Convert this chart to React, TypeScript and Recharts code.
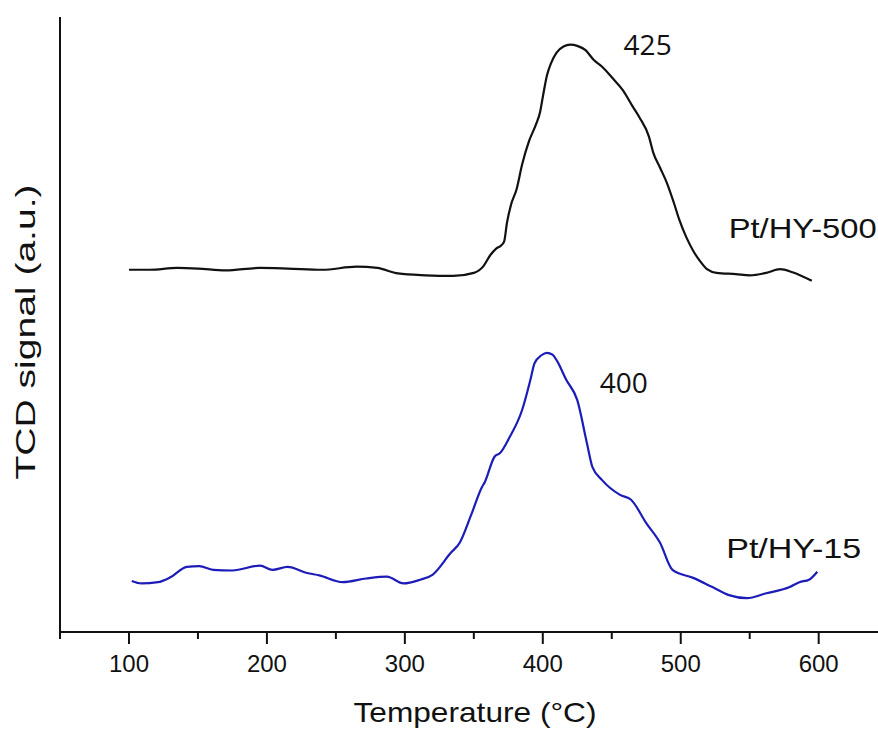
import React from "react";
import { LineChart, Line, XAxis, YAxis, Label, ReferenceDot } from "recharts";

// Pt/HY-500 (black)
const hy500Temp = [100, 115, 135, 150, 170, 195, 215, 240, 265, 280, 295, 315, 335, 350, 357, 362, 366, 370, 372, 374, 377, 381, 385, 390, 395, 398, 400, 403, 406, 410, 415, 420, 425, 431, 437, 443, 450, 458, 465, 470, 477, 480, 485, 490, 495, 499, 504, 509, 514, 519, 526, 540, 550, 562, 572, 581, 595];
const hy500Signal = [58.9, 58.9, 59.2, 59.1, 58.8, 59.2, 59.1, 58.9, 59.4, 59.2, 58.3, 58.0, 57.9, 58.4, 59.5, 61.3, 62.3, 62.9, 63.5, 66.5, 69.5, 72.0, 76.0, 79.8, 82.5, 84.5, 87.0, 90.5, 92.5, 94.2, 95.2, 95.5, 95.3, 94.6, 93.0, 91.9, 90.2, 88.1, 85.5, 83.7, 80.5, 78.0, 75.5, 73.0, 69.8, 67.0, 64.2, 62.0, 60.3, 59.0, 58.4, 58.2, 58.0, 58.4, 59.0, 58.5, 57.1];

// Pt/HY-15 (blue)
const hy15Temp = [102, 109, 121, 130, 142, 151, 161, 175, 195, 204, 215, 229, 238, 255, 272, 287, 299, 311, 320, 333, 340, 348, 356, 358, 365, 369, 376, 385, 391, 394, 399, 403, 407, 410, 417, 425, 432, 436, 443, 456, 464, 475, 485, 494, 509, 523, 535, 548, 562, 579, 586, 593, 599];
const hy15Signal = [8.3, 7.9, 8.1, 8.9, 10.6, 10.7, 10.1, 10.0, 10.8, 10.1, 10.6, 9.6, 9.2, 8.1, 8.7, 9.0, 7.9, 8.5, 9.3, 12.8, 14.6, 19.0, 23.6, 24.4, 28.5, 29.1, 31.7, 36.1, 41.0, 43.7, 45.0, 45.4, 45.1, 44.2, 41.0, 37.7, 30.7, 26.8, 24.7, 22.3, 21.5, 17.7, 14.5, 10.1, 8.8, 7.3, 6.0, 5.5, 6.3, 7.3, 8.1, 8.5, 9.8];

const tempTicks = [50, 100, 150, 200, 250, 300, 350, 400, 450, 500, 550, 600];

const notes = [
  { text: "425", t: 476, v: 93.8, font: "'Open Sans', sans-serif", size: 28, len: 0 },
  { text: "400", t: 458.7, v: 38.9, font: "'Open Sans', sans-serif", size: 28, len: 0 },
  { text: "Pt/HY-500", t: 588.4, v: 64.1, font: "Arial, 'Liberation Sans', sans-serif", size: 28, len: 148 },
  { text: "Pt/HY-15", t: 581.9, v: 12.0, font: "Arial, 'Liberation Sans', sans-serif", size: 28, len: 135 },
];

const hy500 = hy500Temp.map((t, i) => ({ t, v: hy500Signal[i] }));
const hy15 = hy15Temp.map((t, i) => ({ t, v: hy15Signal[i] }));

const arial = "Arial, 'Liberation Sans', sans-serif";

const TempTick = (props: any) => {
  const { x, y, payload } = props;
  const major = payload.value % 100 === 0;
  return (
    <g>
      <line x1={x} x2={x} y1={y} y2={y + (major ? 12 : 7)} stroke="#111" strokeWidth={2} />
      {major && (
        <text x={x} y={y + 40} textAnchor="middle" fontSize={24} fontFamily={arial} fill="#111">
          {payload.value}
        </text>
      )}
    </g>
  );
};

const App: React.FC = () => {
  return (
    <div style={{ position: "absolute", left: 0, top: 0, background: "#fff" }}>
      <LineChart width={878} height={736} margin={{ top: 17, right: 0, bottom: 0, left: 0 }}>
        <XAxis
          type="number"
          dataKey="t"
          domain={[50, 643]}
          ticks={tempTicks}
          allowDataOverflow
          height={104}
          tickSize={0}
          tickMargin={0}
          tickLine={false}
          tick={<TempTick />}
          axisLine={{ stroke: "#111", strokeWidth: 2 }}
        >
          <Label
            content={(p: any) => (
              <text
                x={p.viewBox.x + p.viewBox.width / 2 + 6}
                y={p.viewBox.y + 90}
                textAnchor="middle"
                fontSize={28}
                fontFamily={arial}
                fill="#111"
                textLength={243}
                lengthAdjust="spacingAndGlyphs"
              >
                Temperature (°C)
              </text>
            )}
          />
        </XAxis>
        <YAxis
          type="number"
          domain={[0, 100]}
          width={60}
          tick={false}
          tickLine={false}
          axisLine={{ stroke: "#111", strokeWidth: 2 }}
        >
          <Label
            content={() => (
              <text
                x={35}
                y={332}
                transform="rotate(-90, 35, 332)"
                textAnchor="middle"
                fontSize={28}
                fontFamily={arial}
                fill="#111"
                textLength={295}
                lengthAdjust="spacingAndGlyphs"
              >
                TCD signal (a.u.)
              </text>
            )}
          />
        </YAxis>
        <Line data={hy500} dataKey="v" type="monotone" stroke="#111" strokeWidth={2.2} dot={false} isAnimationActive={false} />
        <Line data={hy15} dataKey="v" type="monotone" stroke="#1c1cb8" strokeWidth={2.2} dot={false} isAnimationActive={false} />
        {notes.map((n) => (
          <ReferenceDot
            key={n.text}
            x={n.t}
            y={n.v}
            r={0}
            shape={(p: any) => (
              <text
                x={p.cx}
                y={p.cy}
                textAnchor="middle"
                fontSize={n.size}
                fontFamily={n.font}
                fill="#111"
                {...(n.len ? { textLength: n.len, lengthAdjust: "spacingAndGlyphs" } : {})}
              >
                {n.text}
              </text>
            )}
          />
        ))}
      </LineChart>
    </div>
  );
};

export default App;
